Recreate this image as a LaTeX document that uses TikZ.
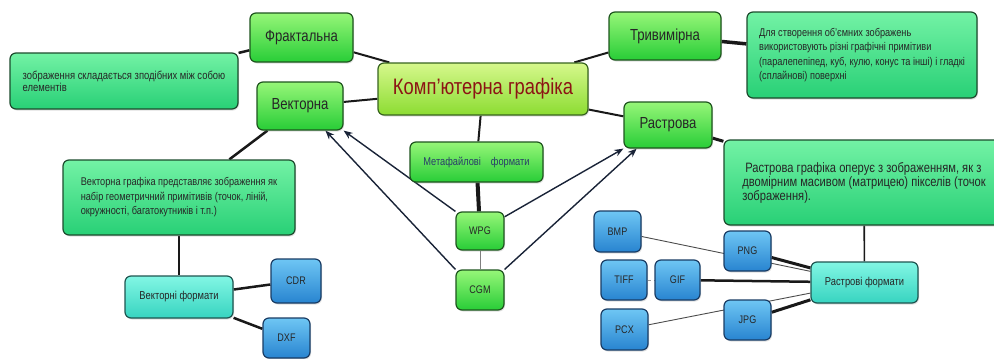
\documentclass[tikz,border=0pt]{standalone}
\usepackage{fontspec}
\setmainfont[FakeStretch=0.82]{Liberation Sans}
\usetikzlibrary{arrows.meta,shadows,backgrounds}

\definecolor{topictop}{RGB}{150,246,120}
\definecolor{topicbot}{RGB}{40,205,55}
\definecolor{topicline}{RGB}{30,85,30}
\definecolor{notetop}{RGB}{115,242,165}
\definecolor{notebot}{RGB}{40,208,118}
\definecolor{noteline}{RGB}{28,75,45}
\definecolor{roottop}{RGB}{214,248,140}
\definecolor{rootbot}{RGB}{140,220,50}
\definecolor{rootline}{RGB}{55,100,30}
\definecolor{roottext}{RGB}{140,20,20}
\definecolor{grouptop}{RGB}{130,246,228}
\definecolor{groupbot}{RGB}{55,212,192}
\definecolor{groupline}{RGB}{30,85,80}
\definecolor{fmttop}{RGB}{110,198,244}
\definecolor{fmtbot}{RGB}{40,132,208}
\definecolor{fmtline}{RGB}{25,60,100}
\definecolor{metatext}{RGB}{40,60,105}
\definecolor{arrowcol}{RGB}{25,35,55}

\begin{document}
\begin{tikzpicture}[x=1pt, y=-1pt, >={Stealth[length=9pt,width=7pt]},
  box/.style={draw, rounded corners=6pt, line width=1.2pt, inner sep=0pt,
    text=black!85, drop shadow={opacity=0.25, shadow xshift=1pt, shadow yshift=-1.5pt}},
  topicbox/.style={box, draw=topicline, top color=topictop, bottom color=topicbot,
    font=\fontsize{16}{18}\selectfont},
  rootbox/.style={box, draw=rootline, top color=roottop, bottom color=rootbot,
    text=roottext, font=\fontsize{22.4}{24}\selectfont},
  notebox/.style={box, draw=noteline, top color=notetop, bottom color=notebot, align=left},
  groupbox/.style={box, draw=groupline, top color=grouptop, bottom color=groupbot,
    font=\fontsize{11.4}{13}\selectfont},
  fmtbox/.style={box, draw=fmtline, top color=fmttop, bottom color=fmtbot,
    font=\fontsize{11}{13}\selectfont},
  link/.style={line width=#1, black!90},
  link/.default=2.5pt,
  thin link/.style={line width=0.9pt, black!70},
  arrowlink/.style={->, line width=1.4pt, arrowcol}]
  \useasboundingbox (0,0) rectangle (994,359);

  % centre
  \node[rootbox, minimum width=210, minimum height=52] (comp) at (483,89) {Комп'ютерна графіка};

  % left side
  \node[topicbox, minimum width=103, minimum height=49] (frakt) at (301.5,37.5) {Фрактальна};
  \node[notebox, minimum width=228, minimum height=56, font=\fontsize{11.5}{12}\selectfont] (fdesc) at (124,81)
    {зображення складається зподібних між собою\\елементів};
  \node[topicbox, minimum width=86, minimum height=48] (vect) at (300,106) {Векторна};
  \node[notebox, minimum width=232, minimum height=75, font=\fontsize{11.2}{14.5}\selectfont] (vdesc) at (179,197.5)
    {Векторна графіка представляє зображення як\\набір геометричний примітивів (точок, ліній,\\окружності, багатокутників і т.п.)};
  \node[groupbox, minimum width=108, minimum height=42] (vform) at (179,297) {Векторні формати};
  \node[fmtbox, minimum width=50, minimum height=44] (cdr) at (296,281) {CDR};
  \node[fmtbox, minimum width=47, minimum height=40] (dxf) at (286.5,338) {DXF};

  % metafiles
  \node[topicbox, minimum width=133, minimum height=40, text=metatext,
    font=\fontsize{11.3}{13}\selectfont] (meta) at (476.5,162) {Метафайлові\hspace{10pt}формати};
  \node[topicbox, minimum width=48, minimum height=38, font=\fontsize{11}{13}\selectfont] (wpg) at (480,231) {WPG};
  \node[topicbox, minimum width=48, minimum height=40, font=\fontsize{11}{13}\selectfont] (cgm) at (480,290) {CGM};

  % right side
  \node[topicbox, minimum width=112, minimum height=48] (tri) at (665,36) {Тривимірна};
  \node[notebox, minimum width=230, minimum height=86, font=\fontsize{11.2}{14.5}\selectfont] (tdesc) at (862,55)
    {Для створення об'ємних зображень\\використовують різні графічні примітиви\\(паралепепіпед, куб, кулю, конус та інші) і гладкі\\(сплайнові) поверхні};
  \node[topicbox, minimum width=88, minimum height=46] (rast) at (668,125) {Растрова};
  \node[notebox, minimum width=280, minimum height=85, font=\fontsize{13.6}{14}\selectfont] (rdesc) at (864,182.5)
    {\hspace*{3pt}Растрова графіка оперує з зображенням, як з\\двомірним масивом (матрицею) пікселів (точок\\зображення).};
  \node[groupbox, minimum width=107, minimum height=41] (rform) at (864.5,282.5) {Растрові формати};
  \node[fmtbox, minimum width=47, minimum height=41] (bmp) at (617.5,231.5) {BMP};
  \node[fmtbox, minimum width=46, minimum height=40] (tiff) at (624,280) {TIFF};
  \node[fmtbox, minimum width=45, minimum height=40] (gif) at (677.5,280) {GIF};
  \node[fmtbox, minimum width=47, minimum height=41] (pcx) at (624.5,329.5) {PCX};
  \node[fmtbox, minimum width=47, minimum height=40] (png) at (747.5,251) {PNG};
  \node[fmtbox, minimum width=47, minimum height=40] (jpg) at (747.5,320) {JPG};

  \begin{scope}[on background layer]
    \draw[link] (frakt) -- (fdesc);
    \draw[link=2pt] (frakt) -- (comp);
    \draw[link=2pt] (vect) -- (comp);
    \draw[link] (vect) -- (vdesc);
    \draw[link=2pt] (vdesc) -- (vform);
    \draw[link] (vform) -- (cdr);
    \draw[link] (vform) -- (dxf);
    \draw[link=2pt] (comp) -- (tri);
    \draw[link=3.5pt] (tri) -- (tdesc);
    \draw[link=2pt] (comp) -- (rast);
    \draw[link=3pt] (rast) -- (rdesc);
    \draw[link=2pt] (comp) -- (meta);
    \draw[link=4pt] (meta) -- (wpg);
    \draw[thin link, black!50] (wpg) -- (cgm);
    \draw[arrowlink] (wpg.north west) -- (vect.south east);
    \draw[arrowlink] (cgm.north west) -- (vect.-44);
    \draw[arrowlink] (wpg.30) -- (rast.south west);
    \draw[arrowlink] (cgm.north east) -- (rast.-143);
    \draw[link=1.6pt] (rdesc) -- (rform);
    \draw[thin link] (bmp) -- (rform);
    \draw[link=3pt] (png) -- (rform);
    \draw[thin link, black!40, dashed] (tiff) -- (gif);
    \draw[link=2.5pt] (gif) -- (rform);
    \draw[thin link] (pcx) -- (rform);
    \draw[link=3pt] (jpg) -- (rform);
  \end{scope}
\end{tikzpicture}
\end{document}
